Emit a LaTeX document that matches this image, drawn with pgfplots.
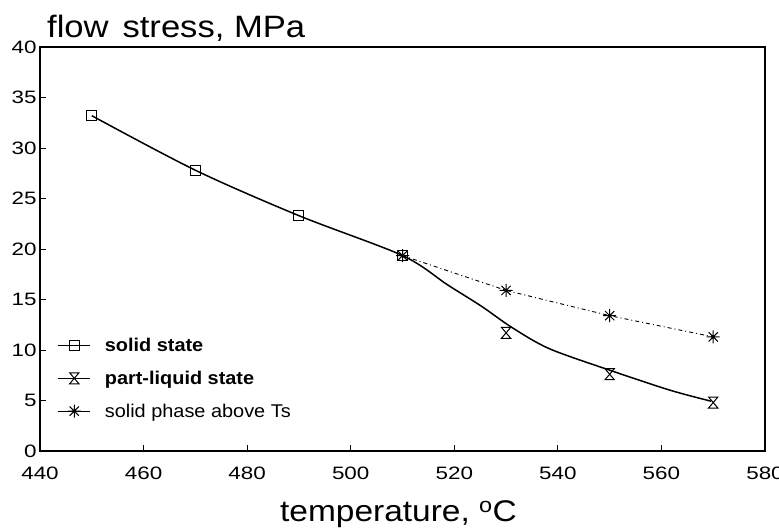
\documentclass[border=0pt]{standalone}
\usepackage{fontspec}
\setmainfont{Liberation Sans}
\newfontfamily\tickfam[FakeStretch=1.25]{Liberation Sans}
\newfontfamily\labfam[FakeStretch=1.12]{Liberation Sans}
\newfontfamily\legfam[FakeStretch=1.08]{Liberation Sans}
\usepackage{pgfplots}
\pgfplotsset{compat=1.18}

\pgfdeclareplotmark{hourglass}{%
  \pgfpathmoveto{\pgfqpoint{-0.85\pgfplotmarksize}{\pgfplotmarksize}}%
  \pgfpathlineto{\pgfqpoint{0.85\pgfplotmarksize}{\pgfplotmarksize}}%
  \pgfpathlineto{\pgfqpoint{-0.85\pgfplotmarksize}{-\pgfplotmarksize}}%
  \pgfpathlineto{\pgfqpoint{0.85\pgfplotmarksize}{-\pgfplotmarksize}}%
  \pgfpathclose
  \pgfusepathqstroke}
\pgfdeclareplotmark{star8}{%
  \pgfpathmoveto{\pgfqpoint{-\pgfplotmarksize}{0pt}}\pgfpathlineto{\pgfqpoint{\pgfplotmarksize}{0pt}}%
  \pgfpathmoveto{\pgfqpoint{0pt}{-\pgfplotmarksize}}\pgfpathlineto{\pgfqpoint{0pt}{\pgfplotmarksize}}%
  \pgfpathmoveto{\pgfqpoint{-0.707\pgfplotmarksize}{-0.707\pgfplotmarksize}}\pgfpathlineto{\pgfqpoint{0.707\pgfplotmarksize}{0.707\pgfplotmarksize}}%
  \pgfpathmoveto{\pgfqpoint{-0.707\pgfplotmarksize}{0.707\pgfplotmarksize}}\pgfpathlineto{\pgfqpoint{0.707\pgfplotmarksize}{-0.707\pgfplotmarksize}}%
  \pgfusepathqstroke}

\begin{document}
\begin{tikzpicture}
\begin{axis}[
  name=ax,
  scale only axis, width=725bp, height=404bp,
  xmin=440, xmax=580, ymin=0, ymax=40,
  xtick={440,460,...,580}, ytick={0,5,...,40},
  tick align=inside, xtick pos=bottom, ytick pos=left,
  major tick length=6bp,
  every tick/.style={black, line width=0.8bp},
  axis line style={line width=1.1bp},
  /pgf/number format/assume math mode=true,
  /pgf/number format/set thousands separator={},
  ticklabel style={font=\fontsize{18}{21}\selectfont\tickfam},
  xticklabel style={yshift=-12bp},
  xlabel={temperature, \textsuperscript{o}C},
  xlabel style={at={(axis description cs:0.5,0)}, anchor=base, xshift=-4bp, yshift=-70bp, font=\fontsize{30}{36}\selectfont\labfam, inner sep=0pt},
  legend cell align=left,
  legend style={draw=none, fill=none, at={(axis description cs:0.02,0.29)}, anchor=north west, font=\fontsize{18.5}{21}\selectfont\legfam, row sep=14bp,
    /tikz/every odd column/.append style={column sep=12bp}},
  legend image code/.code={\draw[#1, mark repeat=2, mark phase=2] plot coordinates {(0bp,0bp) (16bp,0bp) (32bp,0bp)};},
]
\addlegendimage{black, line width=1.2bp, mark=square, mark size=5bp, mark options={solid, line width=1bp}}
\addlegendentry{\bfseries solid state}
\addlegendimage{black, line width=1.2bp, mark=hourglass, mark size=5.5bp, mark options={solid, line width=1bp}}
\addlegendentry{\bfseries part-liquid state}
\addlegendimage{black, line width=0.9bp, mark=star8, mark size=6.5bp, mark options={solid, line width=1bp}}
\addlegendentry{solid phase above Ts}

% fitted curve (solid line)
\addplot[black, line width=1.5bp, smooth, tension=0.5, no marks, forget plot] coordinates {
  (450,33.2) (470,27.8) (490,23.3) (510,19.35) (518.7,16.45) (525.2,14.35)
  (531.1,12.24) (538.3,10.14) (549.9,8.02) (561.6,6.03) (569.6,4.93)
};
% solid state data
\addplot[only marks, black, mark=square, mark size=5bp, mark options={line width=1bp}, forget plot] coordinates {
  (450,33.2) (470,27.8) (490,23.3) (510,19.35)
};
% part-liquid state data
\addplot[only marks, black, mark=hourglass, mark size=5.5bp, mark options={line width=1bp}, forget plot] coordinates {
  (530,11.7) (550,7.6) (570,4.8)
};
% solid phase above Ts
\addplot[black, line width=0.9bp, dash pattern=on 4bp off 3bp on 1bp off 3bp, mark=star8, mark size=6.5bp, mark options={solid, line width=1bp}, forget plot] coordinates {
  (510,19.35) (530,15.9) (550,13.4) (570,11.3)
};
\end{axis}
\node[anchor=base west, inner sep=0pt, font=\fontsize{31}{37}\selectfont\labfam] at ([xshift=7bp, yshift=9bp]ax.north west) {flow\hspace{0.45em}stress, MPa};
\pgfresetboundingbox
\path[use as bounding box] ([xshift=-40bp,yshift=-81bp]ax.south west) rectangle ([xshift=14bp,yshift=47bp]ax.north east);
\end{tikzpicture}
\end{document}
